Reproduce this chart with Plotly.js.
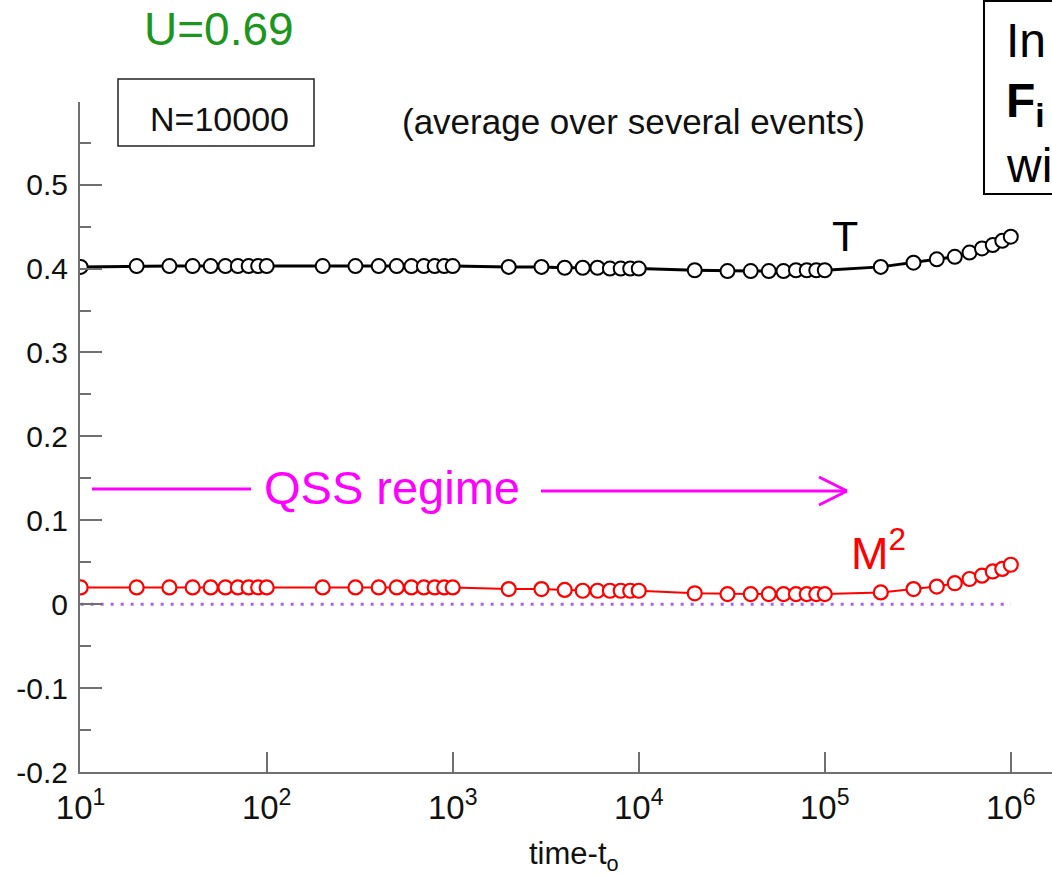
<!DOCTYPE html>
<html>
<head>
<meta charset="utf-8">
<script src="https://cdn.plot.ly/plotly-3.0.1.min.js"></script>
<style>
  html, body { margin: 0; padding: 0; background: #ffffff; }
  #chart { width: 1052px; height: 877px; }
</style>
</head>
<body>
<div id="chart"></div>
<script>
// Elapsed time since t_o (log scale)
const timeSinceT0 = [
  10, 20, 30, 40, 50, 60, 70, 80, 90,
  100, 200, 300, 400, 500, 600, 700, 800, 900,
  1000, 2000, 3000, 4000, 5000, 6000, 7000, 8000, 9000,
  10000, 20000, 30000, 40000, 50000, 60000, 70000, 80000, 90000,
  100000, 200000, 300000, 400000, 500000, 600000, 700000, 800000, 900000,
  1000000
];

// Temperature T, averaged over several events
const temperatureT = [
  0.402, 0.403, 0.403, 0.403, 0.403, 0.403, 0.403, 0.403, 0.403,
  0.403, 0.403, 0.403, 0.403, 0.403, 0.403, 0.403, 0.403, 0.403,
  0.403, 0.402, 0.402, 0.401, 0.401, 0.401, 0.400, 0.400, 0.400,
  0.400, 0.398, 0.397, 0.397, 0.397, 0.397, 0.398, 0.398, 0.398,
  0.398, 0.402, 0.407, 0.411, 0.414, 0.419, 0.424, 0.428, 0.433,
  0.438
];

// Squared magnetization M^2, averaged over several events
const magnetizationSq = [
  0.020, 0.020, 0.020, 0.020, 0.020, 0.020, 0.020, 0.020, 0.020,
  0.020, 0.020, 0.020, 0.020, 0.020, 0.020, 0.020, 0.020, 0.020,
  0.020, 0.018, 0.018, 0.017, 0.016, 0.016, 0.016, 0.016, 0.016,
  0.016, 0.013, 0.012, 0.012, 0.012, 0.012, 0.012, 0.012, 0.012,
  0.012, 0.014, 0.018, 0.021, 0.025, 0.030, 0.034, 0.039, 0.042,
  0.047
];

// Reference level at zero
const zeroLineX = [10, 1000000];
const zeroLineY = [0, 0];

// Axis ticks
const xTickVals = [10, 100, 1000, 10000, 100000, 1000000];
const xTickText = ['10<sup>1</sup>', '10<sup>2</sup>', '10<sup>3</sup>', '10<sup>4</sup>', '10<sup>5</sup>', '10<sup>6</sup>'];
const yTickVals = [-0.2, -0.1, 0, 0.1, 0.2, 0.3, 0.4, 0.5];
const yTickText = ['-0.2', '-0.1', '0', '0.1', '0.2', '0.3', '0.4', '0.5'];

// Page geometry helpers: pixel position -> paper fraction
const W = 1052, H = 877;
const M = { l: 80, r: 0, t: 102, b: 105 };
const PW = W - M.l - M.r, PH = H - M.t - M.b;
const px = x => (x - M.l) / PW;
const py = y => (H - M.b - y) / PH;

const FONT = '"Liberation Sans", Arial, Helvetica, sans-serif';
const AXIS_GREY = '#707070';
const MAGENTA = '#ff00ff';

const traces = [
  {
    x: zeroLineX, y: zeroLineY, type: 'scatter', mode: 'lines',
    line: { color: '#a862ec', width: 3, dash: '3px,7px' },
    hoverinfo: 'skip'
  },
  {
    name: 'M²', x: timeSinceT0, y: magnetizationSq, type: 'scatter', mode: 'lines+markers',
    line: { color: '#ff0000', width: 2 },
    marker: { symbol: 'circle', size: 14, color: '#ffffff', line: { color: '#ff0000', width: 2.2 } }
  },
  {
    name: 'T', x: timeSinceT0, y: temperatureT, type: 'scatter', mode: 'lines+markers',
    line: { color: '#000000', width: 3 },
    marker: { symbol: 'circle', size: 14, color: '#ffffff', line: { color: '#000000', width: 2 } }
  }
];

const shapes = [
  // N=10000 frame
  { type: 'rect', xref: 'paper', yref: 'paper', x0: px(118), x1: px(314), y0: py(146), y1: py(79),
    line: { color: '#222222', width: 1.5 } },
  // side note frame (continues past the right edge)
  { type: 'rect', xref: 'paper', yref: 'paper', x0: px(984), x1: px(1075), y0: py(194), y1: py(1),
    line: { color: '#000000', width: 2 } },
  // QSS regime: lead-in bar
  { type: 'line', xref: 'paper', yref: 'paper', x0: px(92), x1: px(251), y0: py(489), y1: py(489),
    line: { color: MAGENTA, width: 3 } },
  // QSS regime: arrow shaft
  { type: 'line', xref: 'paper', yref: 'paper', x0: px(541), x1: px(847), y0: py(491), y1: py(491),
    line: { color: MAGENTA, width: 3 } },
  // QSS regime: open arrow head
  { type: 'line', xref: 'paper', yref: 'paper', x0: px(819), x1: px(847), y0: py(477), y1: py(491),
    line: { color: MAGENTA, width: 3 } },
  { type: 'line', xref: 'paper', yref: 'paper', x0: px(819), x1: px(847), y0: py(505), y1: py(491),
    line: { color: MAGENTA, width: 3 } }
];

function note(text, x, y, size, color, opts) {
  return Object.assign({
    text: text, xref: 'paper', yref: 'paper', x: px(x), y: py(y),
    xanchor: 'center', yanchor: 'middle', showarrow: false,
    font: { family: FONT, size: size, color: color }
  }, opts || {});
}

const annotations = [
  note('U=0.69', 219, 29, 46, '#1c961c'),
  note('N=10000', 219, 119, 34, '#111111'),
  note('(average over several events)', 633, 121, 35, '#111111'),
  note('T', 845, 236, 43, '#000000'),
  note('M<sup>2</sup>', 849, 550, 45, '#ff0000', { xanchor: 'left' }),
  note('QSS regime', 392, 487, 47, MAGENTA),
  note('In', 1004, 40, 48, '#000000', { xanchor: 'left' }),
  note('<b>F<sub>i</sub></b>', 1004, 104, 48, '#000000', { xanchor: 'left' }),
  note('wi', 1004, 165, 48, '#000000', { xanchor: 'left' }),
  // x-axis title
  note('time-t<sub>o</sub>', 574, 834, 31, '#111111', { yanchor: 'top' })
];

const layout = {
  width: W, height: H,
  margin: M,
  paper_bgcolor: '#ffffff', plot_bgcolor: '#ffffff',
  showlegend: false,
  font: { family: FONT, color: '#000000' },
  xaxis: {
    type: 'log', range: [0.9965, 6.2215],
    showline: true, linecolor: AXIS_GREY, linewidth: 2,
    ticks: 'inside', ticklen: 20, tickwidth: 2, tickcolor: AXIS_GREY,
    tickmode: 'array', tickvals: xTickVals, ticktext: xTickText,
    tickfont: { family: FONT, size: 33, color: '#111111' },
    ticklabelstandoff: 5,
    showgrid: false, zeroline: false
  },
  yaxis: {
    range: [-0.2, 0.5985],
    showline: true, linecolor: AXIS_GREY, linewidth: 2,
    ticks: 'inside', ticklen: 22, tickwidth: 2, tickcolor: AXIS_GREY,
    tickmode: 'array', tickvals: yTickVals, ticktext: yTickText,
    tickfont: { family: FONT, size: 30, color: '#111111' },
    ticklabelstandoff: 4,
    minor: { tickmode: 'linear', tick0: -0.2, dtick: 0.05, ticks: 'inside', ticklen: 11, tickwidth: 2, tickcolor: AXIS_GREY },
    showgrid: false, zeroline: false
  },
  shapes: shapes,
  annotations: annotations
};

Plotly.newPlot('chart', traces, layout, { displayModeBar: false, staticPlot: true });
</script>
</body>
</html>
